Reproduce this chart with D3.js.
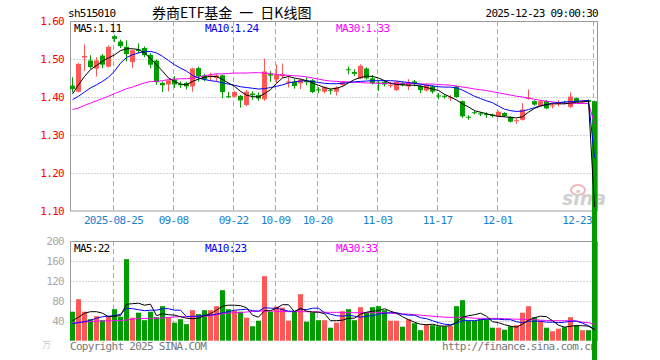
<!DOCTYPE html>
<html>
<head>
<meta charset="utf-8">
<style>
body { margin: 0; background: #fff; }
svg { display: block; }
text { font-family: "DejaVu Sans Mono", monospace; font-size: 11px; letter-spacing: -0.7px; }
</style>
</head>
<body>
<svg width="660" height="360"></svg>
<script src="https://d3js.org/d3.v7.min.js"></script>
<script>
// trading days shown on the chart
var dates = [
  "2025-08-14","2025-08-15","2025-08-18","2025-08-19","2025-08-20","2025-08-21","2025-08-22","2025-08-25","2025-08-26","2025-08-27",
  "2025-08-28","2025-08-29","2025-09-01","2025-09-02","2025-09-03","2025-09-04","2025-09-05","2025-09-08","2025-09-09","2025-09-10",
  "2025-09-11","2025-09-12","2025-09-15","2025-09-16","2025-09-17","2025-09-18","2025-09-19","2025-09-22","2025-09-23","2025-09-24",
  "2025-09-25","2025-09-26","2025-09-29","2025-09-30","2025-10-09","2025-10-10","2025-10-13","2025-10-14","2025-10-15","2025-10-16",
  "2025-10-17","2025-10-20","2025-10-21","2025-10-22","2025-10-23","2025-10-24","2025-10-27","2025-10-28","2025-10-29","2025-10-30",
  "2025-10-31","2025-11-03","2025-11-04","2025-11-05","2025-11-06","2025-11-07","2025-11-10","2025-11-11","2025-11-12","2025-11-13",
  "2025-11-14","2025-11-17","2025-11-18","2025-11-19","2025-11-20","2025-11-21","2025-11-24","2025-11-25","2025-11-26","2025-11-27",
  "2025-11-28","2025-12-01","2025-12-02","2025-12-03","2025-12-04","2025-12-05","2025-12-08","2025-12-09","2025-12-10","2025-12-11",
  "2025-12-12","2025-12-15","2025-12-16","2025-12-17","2025-12-18","2025-12-19","2025-12-22","2025-12-23"
];

var opens = [
  1.430,1.414,1.504,1.496,1.475,1.509,1.480,1.560,1.546,1.532,
  1.492,1.525,1.529,1.511,1.496,1.437,1.433,1.446,1.434,1.437,
  1.428,1.476,1.457,1.453,1.450,1.457,1.402,1.401,1.403,1.379,
  1.409,1.405,1.394,1.460,1.446,1.455,1.438,1.440,1.436,1.442,
  1.444,1.420,1.414,1.419,1.414,1.432,1.473,1.466,1.449,1.475,
  1.449,1.438,1.440,1.430,1.418,1.437,1.428,1.441,1.429,1.417,
  1.428,1.404,1.403,1.397,1.428,1.389,1.348,1.360,1.357,1.355,
  1.354,1.349,1.358,1.348,1.337,1.340,1.396,1.389,1.377,1.389,
  1.376,1.382,1.386,1.374,1.397,1.387,1.392,1.389
];
var closes = [
  1.421,1.487,1.508,1.479,1.496,1.485,1.532,1.553,1.534,1.513,
  1.523,1.521,1.510,1.485,1.439,1.431,1.444,1.433,1.431,1.428,
  1.475,1.454,1.446,1.457,1.457,1.413,1.400,1.413,1.391,1.414,
  1.405,1.396,1.467,1.456,1.459,1.460,1.441,1.429,1.445,1.439,
  1.413,1.418,1.426,1.417,1.425,1.440,1.471,1.461,1.482,1.449,
  1.436,1.436,1.433,1.432,1.440,1.431,1.437,1.436,1.418,1.432,
  1.414,1.402,1.402,1.399,1.400,1.349,1.346,1.358,1.355,1.353,
  1.350,1.361,1.350,1.335,1.339,1.367,1.398,1.380,1.389,1.370,
  1.378,1.384,1.383,1.401,1.387,1.389,1.387,0
];
var highs = [
  1.452,1.490,1.538,1.510,1.505,1.513,1.536,1.564,1.551,1.549,
  1.525,1.541,1.533,1.515,1.499,1.441,1.445,1.455,1.441,1.440,
  1.477,1.480,1.461,1.464,1.461,1.459,1.414,1.416,1.405,1.418,
  1.415,1.412,1.501,1.468,1.485,1.488,1.455,1.448,1.448,1.452,
  1.447,1.426,1.428,1.422,1.428,1.442,1.480,1.473,1.486,1.478,
  1.458,1.443,1.444,1.440,1.442,1.440,1.447,1.445,1.432,1.436,
  1.431,1.410,1.407,1.405,1.430,1.391,1.352,1.364,1.360,1.360,
  1.356,1.363,1.360,1.350,1.343,1.384,1.420,1.391,1.391,1.392,
  1.383,1.392,1.390,1.412,1.399,1.393,1.394,1.390
];
var lows = [
  1.412,1.412,1.468,1.474,1.454,1.476,1.478,1.545,1.529,1.494,
  1.476,1.515,1.505,1.476,1.432,1.413,1.415,1.424,1.424,1.420,
  1.414,1.441,1.441,1.443,1.441,1.397,1.397,1.399,1.372,1.376,
  1.393,1.390,1.390,1.440,1.437,1.450,1.425,1.422,1.421,1.431,
  1.410,1.410,1.410,1.407,1.404,1.428,1.460,1.455,1.447,1.446,
  1.433,1.416,1.428,1.424,1.416,1.428,1.418,1.428,1.410,1.415,
  1.409,1.394,1.396,1.390,1.398,1.345,1.340,1.354,1.350,1.345,
  1.346,1.347,1.347,1.333,1.330,1.338,1.393,1.377,1.375,1.368,
  1.370,1.375,1.381,1.371,1.385,1.383,1.385,0
];
var volumes = [
  58,83,58,43,49,41,48,63,48,163,
  46,56,41,58,47,69,46,36,43,33,
  61,53,61,61,69,101,63,60,58,46,
  29,40,129,58,68,66,40,59,93,38,
  56,41,41,26,36,59,63,41,67,56,
  67,69,61,40,40,28,43,35,21,33,
  31,29,29,29,69,81,40,40,43,43,
  26,26,22,29,31,56,69,47,40,26,
  19,24,27,47,31,21,21,0
];

// moving average lines
var ma5 = [
  1.408,1.432,1.454,1.472,1.483,1.494,1.503,1.511,1.522,1.527,
  1.527,1.525,1.516,1.501,1.485,1.468,1.450,1.441,1.434,1.432,
  1.441,1.447,1.452,1.454,1.454,1.446,1.437,1.428,1.415,1.405,
  1.401,1.400,1.409,1.419,1.436,1.450,1.454,1.450,1.447,1.443,
  1.437,1.431,1.425,1.421,1.423,1.428,1.437,1.446,1.451,1.455,
  1.454,1.450,1.443,1.436,1.433,1.432,1.431,1.431,1.429,1.425,
  1.421,1.417,1.407,1.400,1.392,1.382,1.374,1.364,1.360,1.356,
  1.352,1.349,1.348,1.346,1.345,1.348,1.360,1.370,1.376,1.380,
  1.382,1.382,1.382,1.384,1.386,1.387,1.389,1.11
];
var ma10 = [
  1.393,1.402,1.413,1.424,1.432,1.441,1.452,1.468,1.489,1.504,
  1.511,1.516,1.519,1.520,1.516,1.507,1.496,1.485,1.476,1.468,
  1.457,1.450,1.446,1.443,1.441,1.437,1.434,1.431,1.427,1.425,
  1.423,1.421,1.422,1.425,1.428,1.432,1.437,1.440,1.442,1.443,
  1.441,1.438,1.436,1.435,1.435,1.436,1.438,1.440,1.441,1.442,
  1.443,1.443,1.443,1.443,1.442,1.440,1.438,1.436,1.434,1.431,
  1.429,1.427,1.426,1.426,1.424,1.418,1.410,1.402,1.396,1.390,
  1.385,1.376,1.368,1.364,1.362,1.363,1.367,1.372,1.377,1.380,
  1.384,1.385,1.387,1.388,1.389,1.390,1.391,1.24
];
var ma30 = [
  1.367,1.371,1.378,1.384,1.390,1.396,1.402,1.409,1.415,1.422,
  1.426,1.432,1.437,1.441,1.441,1.443,1.446,1.447,1.448,1.448,
  1.450,1.452,1.456,1.459,1.461,1.461,1.462,1.463,1.463,1.463,
  1.464,1.464,1.463,1.462,1.459,1.458,1.457,1.456,1.455,1.453,
  1.450,1.447,1.444,1.442,1.441,1.440,1.440,1.439,1.438,1.437,
  1.437,1.436,1.436,1.436,1.436,1.436,1.436,1.435,1.434,1.434,
  1.434,1.433,1.432,1.431,1.429,1.426,1.424,1.421,1.419,1.417,
  1.414,1.411,1.408,1.405,1.402,1.400,1.397,1.394,1.391,1.389,
  1.387,1.385,1.384,1.384,1.383,1.383,1.383,1.33
];
var volMa5 = [
  40,47,55,58,58,55,48,49,50,73,
  74,75,71,73,50,54,52,51,48,45,
  44,45,50,54,61,69,71,71,70,66,
  51,47,60,60,65,72,72,58,65,59,
  57,57,54,40,40,41,45,45,53,57,
  59,60,64,59,55,48,42,37,33,32,
  33,30,29,30,37,47,50,52,55,49,
  38,36,32,29,27,33,41,46,49,48,
  40,31,27,29,30,30,29,22
];
var volMa10 = [
  34,36,38,41,45,48,49,50,53,65,
  64,62,60,61,61,64,64,61,61,48,
  49,49,51,51,53,56,58,61,62,63,
  60,59,66,65,65,62,59,59,63,62,
  65,65,56,53,50,49,51,49,47,49,
  50,53,55,56,56,53,51,51,46,44,
  40,36,33,32,35,40,40,40,42,43,
  43,43,42,42,38,36,39,39,39,37,
  37,36,37,39,39,35,30,23
];
var volMa30 = [
  36,37,37.5,38,39,39.4,39.6,40,40.5,41.4,
  43,44.5,44.7,44.7,45,45.5,46.5,47.5,48,48,
  48,48,48.5,50,52,54,55,56,56,57.5,
  58.5,59,59.4,59.4,59,58.5,58,58,58,58,
  58,57.5,57,56.7,56.7,56.5,56,56,56,56,
  56,56,56,55,54,53.4,53,52,51,50,
  49,48,47,46.7,46.7,46.7,46,45,44.7,44.7,
  44.7,44.5,44,43.5,43,42.7,42.7,42,41,40.5,
  40,40,40,40,39.5,37,36,33
];

var tickDates = ["2025-08-25","2025-09-08","2025-09-22","2025-10-09","2025-10-20","2025-11-03","2025-11-17","2025-12-01","2025-12-23"];
var tickLabels = ["2025-08-25","09-08","09-22","10-09","10-20","11-03","11-17","12-01","12-23"];
var priceTicks = [1.10,1.20,1.30,1.40,1.50,1.60];
var volTicks = [40,80,120,160,200];
var priceLegend = ["MA5:1.11","MA10:1.24","MA30:1.33"];
var volLegend = ["MA5:22","MA10:23","MA30:33"];

var RED = "#ff5656", GREEN = "#009c00", GRID = "#aaa", FRAME = "#999";
var lineColors = ["#000", "#0000ff", "#ff00ff"];
var legendX = [74, 205, 336];

var svg = d3.select("svg");

var x = d3.scaleBand().domain(dates).range([69.5, 597.5]).padding(0);
var cx = function(d) { return x(d) + x.bandwidth() / 2; };
var y = d3.scaleLinear().domain([1.1, 1.6]).range([211, 21]);
var yv = d3.scaleLinear().domain([0, 200]).range([340.7, 240.7]);

// frames and grids
var grid = svg.append("g");
grid.selectAll(".hp").data(priceTicks.slice(1, -1)).enter().append("line")
  .attr("x1", 70.5).attr("x2", 597.5)
  .attr("y1", function(d) { return Math.round(y(d)) + 0.5; })
  .attr("y2", function(d) { return Math.round(y(d)) + 0.5; })
  .attr("stroke", GRID).attr("stroke-dasharray", "1,2");
grid.selectAll(".hv").data(volTicks.slice(0, -1)).enter().append("line")
  .attr("x1", 70.5).attr("x2", 597.5)
  .attr("y1", function(d) { return Math.round(yv(d)) + 0.5; })
  .attr("y2", function(d) { return Math.round(yv(d)) + 0.5; })
  .attr("stroke", GRID).attr("stroke-dasharray", "1,2");
grid.selectAll(".vp").data(tickDates).enter().append("line")
  .attr("x1", function(d) { return Math.round(x(d)) + 1.5; })
  .attr("x2", function(d) { return Math.round(x(d)) + 1.5; })
  .attr("y1", 21).attr("y2", 211)
  .attr("stroke", GRID).attr("stroke-dasharray", "5,3");
grid.selectAll(".vv").data(tickDates).enter().append("line")
  .attr("x1", function(d) { return Math.round(x(d)) + 1.5; })
  .attr("x2", function(d) { return Math.round(x(d)) + 1.5; })
  .attr("y1", 241).attr("y2", 340)
  .attr("stroke", GRID).attr("stroke-dasharray", "5,3");

svg.append("rect").attr("x", 70.5).attr("y", 21.5).attr("width", 527).attr("height", 189.5)
  .attr("fill", "none").attr("stroke", FRAME);
svg.append("path").attr("d", "M70.5,341V241.5H597.5V341").attr("fill", "none").attr("stroke", FRAME);

// axes
var yAxis = svg.append("g").attr("transform", "translate(70,0)")
  .call(d3.axisLeft(y).tickValues(priceTicks).tickFormat(d3.format(".2f")).tickSize(0).tickPadding(6));
yAxis.select(".domain").remove();
yAxis.selectAll("text").attr("fill", "#f00").style("font-size", "11px").style("font-family", "DejaVu Sans Mono");

var vAxis = svg.append("g").attr("transform", "translate(70,0)")
  .call(d3.axisLeft(yv).tickValues(volTicks).tickSize(0).tickPadding(6));
vAxis.select(".domain").remove();
vAxis.selectAll("text").attr("fill", "#aaa").style("font-size", "11px").style("font-family", "DejaVu Sans Mono");

var xAxis = svg.append("g").attr("transform", "translate(-1,211)")
  .call(d3.axisBottom(x).tickValues(tickDates)
    .tickFormat(function(d) { return tickLabels[tickDates.indexOf(d)]; })
    .tickSize(0).tickPadding(5));
xAxis.select(".domain").remove();
xAxis.selectAll("text").attr("fill", "#1a80d0").style("font-size", "11px").style("font-family", "DejaVu Sans Mono");
xAxis.selectAll(".tick:last-of-type text").attr("text-anchor", "end").attr("dx", "-0.15em");

// titles
svg.append("text").attr("x", 68).attr("y", 17).text("sh515010").attr("fill", "#000");
svg.append("text").attr("x", 152).attr("y", 18).text("券商ETF基金\u2002一\u2002日K线图")
  .style("font-family", "'Noto Sans CJK SC'").style("font-size", "14px").style("letter-spacing", "0px");
svg.append("text").attr("x", 598).attr("y", 17).attr("text-anchor", "end").text("2025-12-23 09:00:30");

// legends
svg.selectAll(".pl").data(priceLegend).enter().append("text")
  .attr("x", function(d, i) { return legendX[i]; }).attr("y", 32)
  .attr("fill", function(d, i) { return lineColors[i]; }).text(function(d) { return d; });
svg.selectAll(".vl").data(volLegend).enter().append("text")
  .attr("x", function(d, i) { return legendX[i]; }).attr("y", 252)
  .attr("fill", function(d, i) { return lineColors[i]; }).text(function(d) { return d; });

// watermark
var wm = svg.append("g").attr("opacity", 0.45);
wm.append("ellipse").attr("cx", 578).attr("cy", 190).attr("rx", 7).attr("ry", 5)
  .attr("fill", "none").attr("stroke", "#e06060").attr("stroke-width", 2);
wm.append("text").attr("x", 562).attr("y", 205).text("sina")
  .style("font-family", "'DejaVu Sans'").style("font-size", "19px").style("font-weight", "bold")
  .style("font-style", "italic").style("letter-spacing", "0px").attr("fill", "#999");

// footer
svg.append("text").attr("x", 70).attr("y", 350).attr("fill", "#777").text("Copyright 2025 SINA.COM");
svg.append("text").attr("x", 442).attr("y", 350).attr("fill", "#777").text("http://finance.sina.com.cn");
svg.append("text").attr("x", 42).attr("y", 348).attr("fill", "#ccc")
  .style("font-family", "'Noto Sans CJK SC'").style("font-size", "9px").text("万");

// volume bars
svg.append("g").selectAll("rect").data(dates).enter().append("rect")
  .attr("x", function(d) { return x(d) + 0.5; })
  .attr("width", x.bandwidth() - 1)
  .attr("y", function(d, i) { return yv(volumes[i]); })
  .attr("height", function(d, i) { return yv(0) - yv(volumes[i]); })
  .attr("fill", function(d, i) { return closes[i] >= opens[i] ? RED : GREEN; });

// candles
var candles = svg.append("g").selectAll("g").data(dates).enter().append("g")
  .attr("fill", function(d, i) { return closes[i] >= opens[i] ? RED : GREEN; });
candles.append("rect")
  .attr("x", function(d) { return cx(d) - 0.5; }).attr("width", 1)
  .attr("y", function(d, i) { return y(highs[i]); })
  .attr("height", function(d, i) { return Math.max(1, y(lows[i]) - y(highs[i])); });
candles.append("rect")
  .attr("x", function(d) { return x(d) + 0.5; }).attr("width", x.bandwidth() - 1)
  .attr("y", function(d, i) { return y(Math.max(opens[i], closes[i])); })
  .attr("height", function(d, i) { return Math.max(1, Math.abs(y(opens[i]) - y(closes[i]))); });

// MA lines
function drawLine(values, scale, color) {
  svg.append("path").datum(values)
    .attr("d", d3.line().x(function(v, i) { return cx(dates[i]); }).y(function(v) { return scale(v); }))
    .attr("fill", "none").attr("stroke", color).attr("stroke-width", 1);
}
drawLine(ma30, y, lineColors[2]);
drawLine(ma10, y, lineColors[1]);
drawLine(ma5, y, lineColors[0]);
drawLine(volMa30, yv, lineColors[2]);
drawLine(volMa10, yv, lineColors[1]);
drawLine(volMa5, yv, lineColors[0]);
</script>
</body>
</html>
